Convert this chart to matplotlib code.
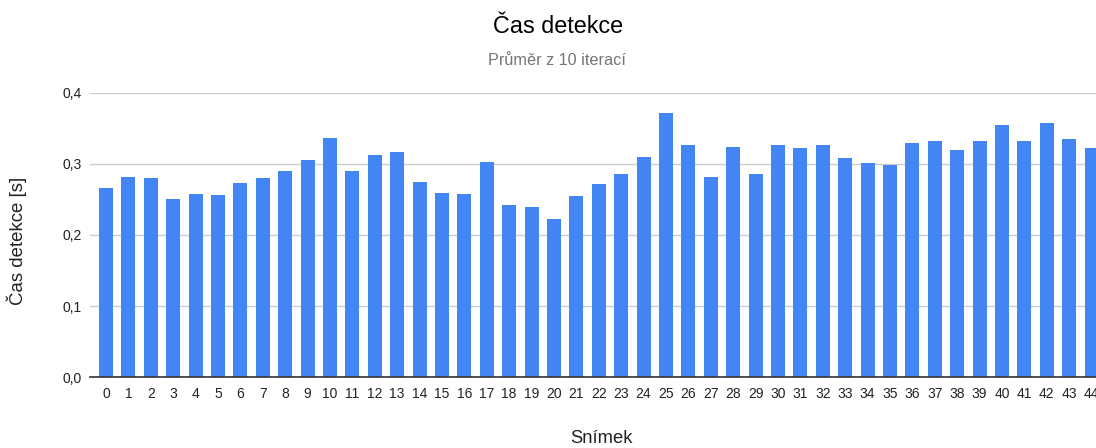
import matplotlib
matplotlib.use("Agg")
import matplotlib.pyplot as plt
from matplotlib.ticker import FuncFormatter

plt.rcParams['font.family'] = ['Liberation Sans', 'DejaVu Sans']

# Mean detection time per frame (seconds)
frames = list(range(45))
detection_time = [
    0.266, 0.282, 0.280, 0.250, 0.258, 0.256, 0.273, 0.280, 0.290, 0.306,
    0.336, 0.290, 0.312, 0.316, 0.274, 0.259, 0.258, 0.303, 0.242, 0.240,
    0.222, 0.255, 0.271, 0.286, 0.310, 0.372, 0.326, 0.281, 0.324, 0.286,
    0.326, 0.322, 0.327, 0.308, 0.301, 0.298, 0.329, 0.332, 0.319, 0.332,
    0.354, 0.332, 0.357, 0.335, 0.322,
]
y_ticks = [0.0, 0.1, 0.2, 0.3, 0.4]

title = "Čas detekce"
subtitle = "Průměr z 10 iterací"
x_label = "Snímek"
y_label = "Čas detekce [s]"

W, H = 1096, 448
fig = plt.figure(figsize=(W / 100, H / 100), dpi=100)
ax = fig.add_axes([90 / W, 0.1578, 1 - 90 / W, 0.6353])

ax.bar(frames, detection_time, width=0.625, color="#4285F4", zorder=3)

ax.set_xlim(-0.714, 44.2)
ax.set_ylim(0, 0.4)
ax.set_yticks(y_ticks)
ax.yaxis.set_major_formatter(FuncFormatter(lambda v, p: f"{v:.1f}".replace(".", ",")))
ax.set_xticks(frames)
ax.set_xticklabels([str(f) for f in frames])

ax.grid(axis="y", color="#cccccc", linewidth=1, zorder=0)
for s in ["top", "right", "left"]:
    ax.spines[s].set_visible(False)
ax.spines["bottom"].set_color("#333333")
ax.spines["bottom"].set_linewidth(1.2)
ax.spines["bottom"].set_zorder(4)
ax.tick_params(axis="both", length=0, labelsize=10, colors="#222222")
ax.tick_params(axis="x", pad=7)
ax.tick_params(axis="y", pad=6)

fig.text(558 / W, 1 - 33 / H, title, ha="center", va="baseline", fontsize=16.8, color="#000000")
fig.text(557 / W, 1 - 65 / H, subtitle, ha="center", va="baseline", fontsize=11.7, color="#757575")
fig.text(601 / W, 1 - 443 / H, x_label, ha="center", va="baseline", fontsize=13.2, color="#222222")
fig.text(17 / W, 1 - 241 / H, y_label, ha="center", va="center", rotation=90,
         fontsize=13.4, color="#222222")

fig.savefig("out.png", dpi=100, facecolor="white")
